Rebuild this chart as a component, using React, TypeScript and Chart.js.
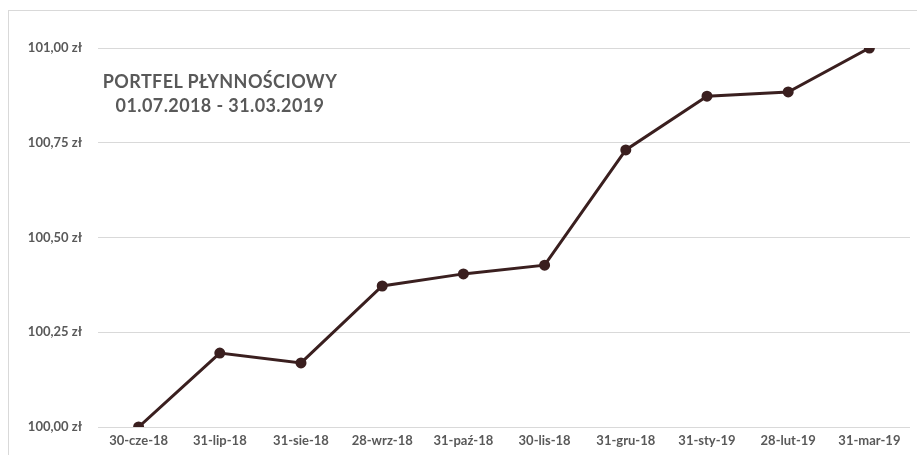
import React, { useEffect, useRef } from "react";
import { Chart, registerables } from "chart.js";

Chart.register(...registerables);

const categories = [
  "30-cze-18",
  "31-lip-18",
  "31-sie-18",
  "28-wrz-18",
  "31-paź-18",
  "30-lis-18",
  "31-gru-18",
  "31-sty-19",
  "28-lut-19",
  "31-mar-19",
];
const values = [100.0, 100.195, 100.169, 100.372, 100.404, 100.427, 100.731, 100.873, 100.884, 101.0];
const yMin = 100;
const yMax = 101;
const yStep = 0.25;
const titleLines = ["PORTFEL PŁYNNOŚCIOWY", "01.07.2018 - 31.03.2019"];

const formatZl = (v: number) => v.toFixed(2).replace(".", ",") + " zł";

export default function App() {
  const ref = useRef<HTMLCanvasElement | null>(null);
  useEffect(() => {
    if (!ref.current) return;
    const chart = new Chart(ref.current, {
      type: "line",
      data: {
        labels: categories,
        datasets: [
          {
            data: values,
            borderColor: "#3a1f1f",
            backgroundColor: "#3a1f1f",
            borderWidth: 3,
            pointRadius: 4,
            pointBackgroundColor: "#3a1f1f",
            pointBorderColor: "#3a1f1f",
            tension: 0,
          },
        ],
      },
      options: {
        animation: false,
        responsive: false,
        maintainAspectRatio: false,
        layout: { padding: { top: 48, right: 6, bottom: 0, left: 0 } },
        plugins: { legend: { display: false }, tooltip: { enabled: false }, title: { display: false } },
        scales: {
          x: {
            offset: true,
            grid: { display: false, drawTicks: false },
            border: { display: false },
            ticks: {
              color: "#595959",
              font: { family: "Lato", size: 13, weight: "bold" },
              padding: 6,
              maxRotation: 0,
              autoSkip: false,
            },
            afterFit: (s: any) => {
              s.height = 28;
            },
          },
          y: {
            min: yMin,
            max: yMax,
            grid: { color: "#d9d9d9", lineWidth: 1, drawTicks: false },
            border: { display: false },
            ticks: {
              stepSize: yStep,
              color: "#595959",
              font: { family: "Lato", size: 13, weight: "bold" },
              padding: 16,
              callback: (v: any) => formatZl(Number(v)),
            },
            afterFit: (s: any) => {
              s.width = 98;
            },
          },
        },
      },
    });
    return () => chart.destroy();
  }, []);

  return (
    <div style={{ position: "fixed", left: 0, top: 0, width: 917, height: 455, background: "#fff", overflow: "hidden" }}>
      <div
        style={{
          position: "absolute",
          left: 8,
          top: 10,
          width: 1000,
          height: 1000,
          borderLeft: "1px solid #d9d9d9",
          borderTop: "1px solid #d9d9d9",
        }}
      />
      <canvas ref={ref} width={917} height={455} style={{ position: "absolute", left: 0, top: 0 }} />
      <div
        style={{
          position: "absolute",
          left: 80,
          width: 280,
          top: 69,
          textAlign: "center",
          fontFamily: "Lato",
          fontWeight: "bold",
          fontSize: 18,
          lineHeight: "24px",
          letterSpacing: 0.4,
          color: "#595959",
        }}
      >
        {titleLines.map((t) => (
          <div key={t}>{t}</div>
        ))}
      </div>
    </div>
  );
}
